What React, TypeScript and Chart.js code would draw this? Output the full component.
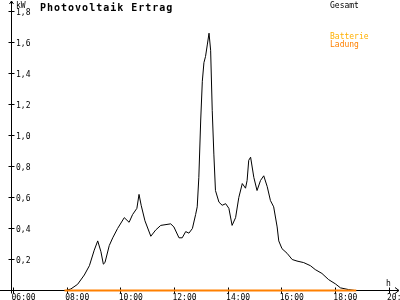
import React, { useEffect, useRef } from "react";
import { Chart, registerables } from "chart.js";

Chart.register(...registerables);

// ---- data ----
const title = "Photovoltaik Ertrag";
const yUnit = "kW";
const xUnit = "h";
const legendGesamt = "Gesamt";
const legendBatterie = ["Batterie", "Ladung"];

const gesamtHours = [
  7.96, 8.14, 8.39, 8.64, 8.83, 9.01, 9.14, 9.26, 9.35, 9.41, 9.57, 9.7, 9.88,
  10.13, 10.31, 10.44, 10.6, 10.68, 10.76, 10.9, 11.12, 11.3, 11.49, 11.86,
  11.98, 12.17, 12.29, 12.42, 12.54, 12.67, 12.79, 12.85, 12.91, 12.98, 13.04,
  13.1, 13.16, 13.23, 13.29, 13.35, 13.41, 13.47, 13.53, 13.66, 13.78, 13.91,
  14.03, 14.15, 14.28, 14.4, 14.53, 14.65, 14.71, 14.77, 14.84, 14.96, 15.08,
  15.21, 15.33, 15.46, 15.58, 15.7, 15.83, 15.89, 16.01, 16.2, 16.39, 16.57,
  16.82, 17.07, 17.25, 17.5, 17.75, 18.0, 18.19, 18.49, 18.73,
];
const gesamtValues = [
  0, 0.01, 0.04, 0.1, 0.16, 0.26, 0.32, 0.25, 0.17, 0.18, 0.29, 0.34, 0.4,
  0.47, 0.44, 0.49, 0.53, 0.62, 0.55, 0.45, 0.35, 0.39, 0.42, 0.43,
  0.41, 0.34, 0.34, 0.38, 0.37, 0.4, 0.49, 0.54, 0.73, 1.1, 1.35,
  1.47, 1.51, 1.59, 1.66, 1.55, 1.16, 0.88, 0.645, 0.57, 0.55, 0.56,
  0.53, 0.42, 0.47, 0.6, 0.69, 0.66, 0.71, 0.84, 0.86, 0.73, 0.645,
  0.71, 0.74, 0.67, 0.58, 0.54, 0.41, 0.32, 0.27, 0.24, 0.2, 0.19,
  0.18, 0.16, 0.135, 0.11, 0.07, 0.043, 0.017, 0.006, 0,
];

const batterieHours = [7.9, 18.78];
const batterieValues = [0, 0];

const yTicks = [0.2, 0.4, 0.6, 0.8, 1.0, 1.2, 1.4, 1.6, 1.8];
const yTickLabels = ["0,2", "0,4", "0,6", "0,8", "1,0", "1,2", "1,4", "1,6", "1,8"];
const xTicks = [6, 8, 10, 12, 14, 16, 18, 20];
const xTickLabels = ["06:00", "08:00", "10:00", "12:00", "14:00", "16:00", "18:00", "20:00"];

const FONT = "'DejaVu Sans Mono', 'Liberation Mono', monospace";
const ORANGE = "#ff8000";
const YELLOW = "#ffb000";

const axesPlugin = {
  id: "customAxes",
  beforeDatasetsDraw(chart: any) {
    const ctx = chart.ctx as CanvasRenderingContext2D;
    const xs = chart.scales.x;
    const ys = chart.scales.y;
    const y0 = Math.round(ys.getPixelForValue(0) - 0.5) + 0.5;
    const axX = Math.round(xs.left) - 3 + 0.5;
    ctx.save();
    ctx.strokeStyle = "#000";
    ctx.lineWidth = 1;
    ctx.beginPath();
    // y axis
    ctx.moveTo(axX, 1);
    ctx.lineTo(axX, y0 + 3);
    // up arrow
    ctx.moveTo(axX - 2, 4);
    ctx.lineTo(axX, 1);
    ctx.lineTo(axX + 2, 4);
    // x axis
    ctx.moveTo(0, y0);
    ctx.lineTo(399, y0);
    // right arrow
    ctx.moveTo(395, y0 - 3);
    ctx.lineTo(399, y0);
    ctx.lineTo(395, y0 + 3);
    // y ticks
    yTicks.forEach((v) => {
      const py = Math.round(ys.getPixelForValue(v) - 0.5) + 0.5;
      ctx.moveTo(axX - 3, py);
      ctx.lineTo(axX + 3, py);
    });
    // x ticks
    xTicks.forEach((h) => {
      const px = Math.round(xs.getPixelForValue(h) - 0.5) + 0.5;
      ctx.moveTo(px, y0 - 3);
      ctx.lineTo(px, y0 + 3);
    });
    ctx.stroke();
    ctx.restore();
  },
  afterDraw(chart: any) {
    const ctx = chart.ctx as CanvasRenderingContext2D;
    const xs = chart.scales.x;
    const ys = chart.scales.y;
    const y0 = ys.getPixelForValue(0);
    const axX = Math.round(xs.left) - 3;
    ctx.save();
    ctx.fillStyle = "#000";
    ctx.textBaseline = "alphabetic";
    ctx.textAlign = "left";
    ctx.font = `8px ${FONT}`;
    yTicks.forEach((v, i) => {
      const py = ys.getPixelForValue(v);
      ctx.fillText(yTickLabels[i], axX + 5, py + 3);
    });
    xTicks.forEach((h, i) => {
      const px = xs.getPixelForValue(h);
      ctx.fillText(xTickLabels[i], px - 2, 300);
    });
    ctx.fillText(yUnit, axX + 5, 8);
    ctx.fillText(xUnit, 386, y0 - 5);
    // legend
    ctx.fillText(legendGesamt, 330, 8);
    ctx.fillStyle = YELLOW;
    ctx.fillText(legendBatterie[0], 330, 39);
    ctx.fillStyle = ORANGE;
    ctx.fillText(legendBatterie[1], 330, 47);
    // title
    ctx.fillStyle = "#000";
    ctx.font = `bold 10px ${FONT}`;
    (ctx as any).letterSpacing = "1px";
    ctx.fillText(title, 40, 11);
    ctx.restore();
  },
};

export default function App() {
  const ref = useRef<HTMLCanvasElement | null>(null);
  useEffect(() => {
    if (!ref.current) return;
    const chart = new Chart(ref.current, {
      type: "line",
      data: {
        datasets: [
          {
            label: legendBatterie.join(" "),
            data: batterieHours.map((h, i) => ({ x: h, y: batterieValues[i] })),
            borderColor: ORANGE,
            borderWidth: 2,
            pointRadius: 0,
            tension: 0,
            clip: false as any,
            order: 0,
          },
          {
            label: legendGesamt,
            data: gesamtHours.map((h, i) => ({ x: h, y: gesamtValues[i] })),
            borderColor: "#000",
            borderWidth: 1,
            pointRadius: 0,
            tension: 0,
            clip: false as any,
            order: 1,
          },
        ],
      },
      options: {
        animation: false,
        responsive: false,
        devicePixelRatio: 1,
        layout: { padding: { left: 13.5, right: 11, top: 11.5, bottom: 9.5 } },
        scales: {
          x: { type: "linear", min: 6, max: 20, display: false },
          y: { type: "linear", min: 0, max: 1.8, display: false },
        },
        plugins: {
          legend: { display: false },
          tooltip: { enabled: false },
          title: { display: false },
        },
      },
      plugins: [axesPlugin],
    });
    return () => chart.destroy();
  }, []);
  return (
    <div style={{ position: "absolute", left: 0, top: 0, width: 400, height: 300, background: "#fff" }}>
      <canvas ref={ref} width={400} height={300} style={{ display: "block" }} />
    </div>
  );
}
